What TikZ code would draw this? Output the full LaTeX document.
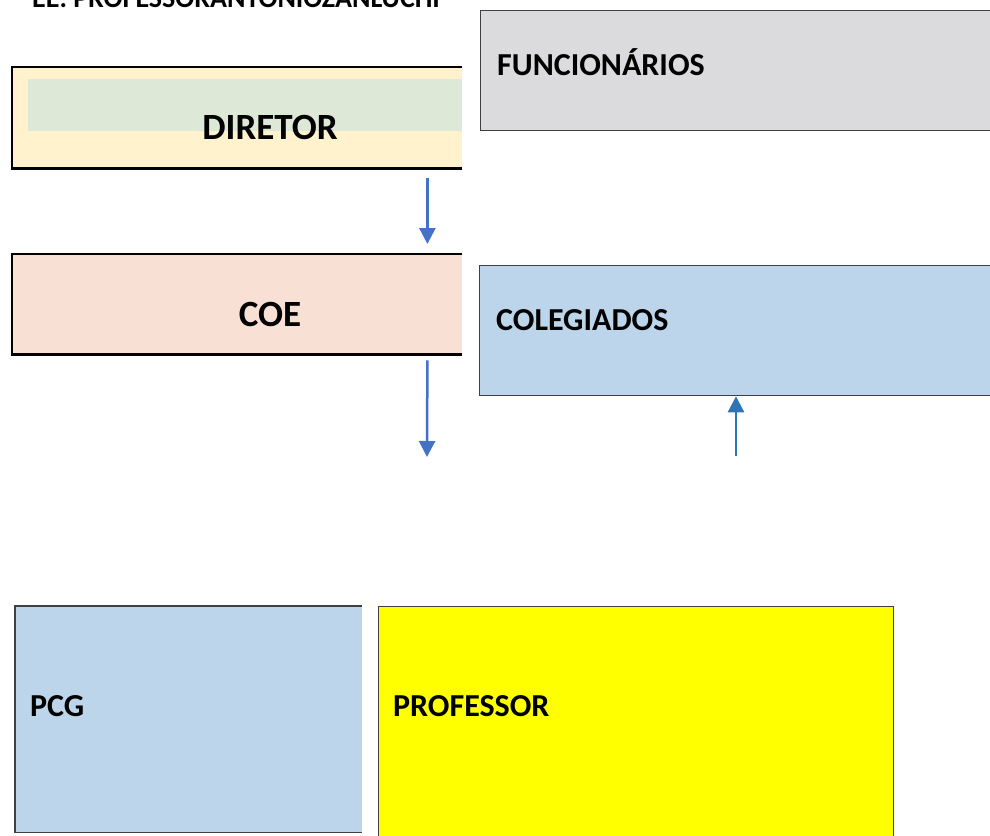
\documentclass[tikz,border=0pt]{standalone}
\usepackage{fontspec}
\setmainfont{Carlito}
\usetikzlibrary{arrows.meta, positioning, calc}
\definecolor{cdiretor}{HTML}{FFF2CC}
\definecolor{cverde}{HTML}{DDE8D6}
\definecolor{ccoe}{HTML}{F8E1D4}
\definecolor{cazulclaro}{HTML}{BDD5EB}
\definecolor{ccinza}{HTML}{DBDBDD}
\definecolor{camarelo}{HTML}{FFFF00}
\definecolor{cseta}{HTML}{4472C4}
\definecolor{csetaesc}{HTML}{2E75B6}

\begin{document}
\begin{tikzpicture}[
  x=1pt, y=-1pt,
  caixa/.style={rectangle, inner sep=0pt, anchor=north west},
  borda/.style={draw=black!75, line width=1.3pt},
  bordagrossa/.style={draw=black, line width=2.4pt},
  rotulo/.style={inner sep=0pt, anchor=west, font=\fontsize{32}{32}\selectfont\bfseries},
  rotulogrande/.style={inner sep=0pt, font=\fontsize{37}{37}\selectfont\bfseries},
  seta/.style={-{Triangle[length=16pt,width=16pt]}, line width=2.5pt, draw=cseta},
]
\clip (0,0) rectangle (990,835);
% titulo cortado no topo
\node[inner sep=0pt, anchor=base west, font=\fontsize{28}{28}\selectfont\bfseries] (titulo) at (32,8) {EE. PROFESSORANTONIOZANLUCHI};

% linha de cima
\node[caixa, fill=cdiretor, minimum width=450pt, minimum height=101pt] (diretor) at (12,67) {};
\node[caixa, fill=cverde, minimum width=434pt, minimum height=52pt] (faixa) at (28,79) {};
\draw[bordagrossa] (diretor.north east) -- (diretor.north west) -- (diretor.south west) -- (diretor.south east);
\node[rotulogrande] (t-diretor) at (270,127) {DIRETOR};
\node[caixa, fill=ccinza, borda, minimum width=530pt, minimum height=120pt] (func) at (480,10) {};
\node[rotulo] (t-func) at (497,62) {FUNCIONÁRIOS};

% linha do meio
\node[caixa, fill=ccoe, minimum width=450pt, minimum height=100pt] (coe) at (12,254) {};
\draw[bordagrossa] (coe.north east) -- (coe.north west) -- (coe.south west) -- (coe.south east);
\node[rotulogrande] (t-coe) at (270,314) {COE};
\node[caixa, fill=cazulclaro, borda, minimum width=530pt, minimum height=130pt] (coleg) at (479,265) {};
\node[rotulo] (t-coleg) at (496,320) {COLEGIADOS};

% linha de baixo
\node[caixa, fill=cazulclaro, minimum width=347pt, minimum height=226pt] (pcg) at (15,606) {};
\draw[borda] (pcg.north east) -- (pcg.north west) -- (pcg.south west) -- (pcg.south east);
\node[rotulo] (t-pcg) at (30,706) {PCG};
\node[caixa, fill=camarelo, borda, minimum width=515pt, minimum height=250pt] (prof) at (378,606) {};
\node[rotulo] (t-prof) at (393,706) {PROFESSOR};

% setas
\coordinate (fim-coe) at (427,457);
\coordinate (ini-coleg) at (736,456);
\draw[seta] ([xshift=-35pt,yshift=-10pt]diretor.south east) -- ([xshift=-35pt,yshift=10pt]coe.north east);
\draw[seta] ([xshift=-35pt,yshift=-6pt]coe.south east) -- (fim-coe);
\draw[seta, draw=csetaesc] (ini-coleg) -- ([xshift=257pt]coleg.south west);
\end{tikzpicture}
\end{document}
